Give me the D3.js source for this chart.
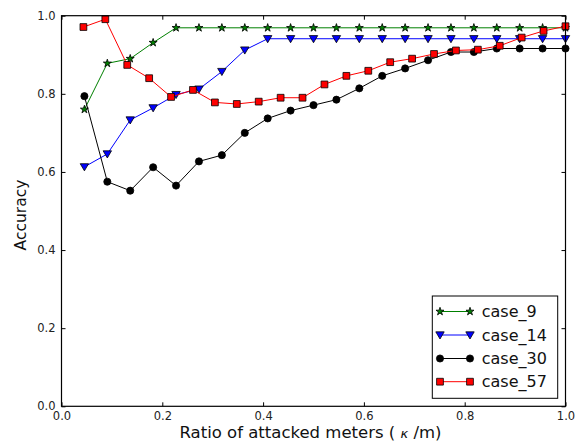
<!DOCTYPE html>
<html>
<head>
<meta charset="utf-8">
<script src="https://cdn.jsdelivr.net/npm/d3@7/dist/d3.min.js"></script>
<style>
  html, body { margin: 0; padding: 0; background: #fff; }
  svg { display: block; font-family: "DejaVu Sans", sans-serif; }
</style>
</head>
<body>
<svg id="chart" width="587" height="446"></svg>
<script>
// Accuracy against the ratio of attacked meters for four IEEE test cases
const case9 = [0.760, 0.878, 0.890, 0.931, 0.969, 0.969, 0.969, 0.969, 0.969, 0.969, 0.969,
               0.969, 0.969, 0.969, 0.969, 0.969, 0.969, 0.969, 0.969, 0.969, 0.969, 0.969];
const case14 = [0.613, 0.646, 0.733, 0.764, 0.798, 0.812, 0.857, 0.912, 0.941, 0.941, 0.941,
                0.941, 0.941, 0.941, 0.941, 0.941, 0.941, 0.941, 0.941, 0.941, 0.941, 0.941];
const case30 = [0.794, 0.575, 0.552, 0.612, 0.565, 0.627, 0.643, 0.700, 0.737, 0.757, 0.771,
                0.785, 0.814, 0.846, 0.865, 0.886, 0.907, 0.907, 0.916, 0.916, 0.916, 0.916];
const case57 = [0.971, 0.991, 0.874, 0.840, 0.792, 0.810, 0.778, 0.774, 0.780, 0.790, 0.790,
                0.824, 0.846, 0.859, 0.881, 0.890, 0.902, 0.911, 0.913, 0.923, 0.944, 0.961, 0.973];
// x positions: k/m over the number of steps each case was run with
const steps22 = d3.range(1, 23).map(i => i / 22);
const steps23 = d3.range(1, 24).map(i => i / 23);

const xTicks = [0.0, 0.2, 0.4, 0.6, 0.8, 1.0];
const yTicks = [0.0, 0.2, 0.4, 0.6, 0.8, 1.0];
const seriesNames = ["case_9", "case_14", "case_30", "case_57"];

const series = [
  { name: seriesNames[0], xs: steps22, ys: case9,  color: "#008000", marker: "star" },
  { name: seriesNames[1], xs: steps22, ys: case14, color: "#0000ff", marker: "tri" },
  { name: seriesNames[2], xs: steps22, ys: case30, color: "#000000", marker: "circle" },
  { name: seriesNames[3], xs: steps23, ys: case57, color: "#ff0000", marker: "square" }
];

const svg = d3.select("#chart");
const padL = 61.5, padR = 565.5, padT = 15.7, padB = 406.3;
const x = d3.scaleLinear().domain([0, 1]).range([padL, padR]);
const y = d3.scaleLinear().domain([0, 1]).range([padB, padT]);

// Marker shapes
function markerPath(type) {
  if (type === "star") return d3.symbol(d3.symbolStar, 20)();
  if (type === "tri") {
    const s = 4.2;
    return `M${-s},${-s * 0.75}L${s},${-s * 0.75}L0,${s * 0.95}Z`;
  }
  if (type === "circle") return d3.symbol(d3.symbolCircle, 40)();
  if (type === "square") return d3.symbol(d3.symbolSquare, 46)();
}

// Axes: ticks point inward on all four sides
const fmt = d3.format(".1f");
const tickLen = 4;

const xb = svg.append("g").attr("transform", `translate(0,${padB})`)
  .call(d3.axisBottom(x).tickValues(xTicks).tickFormat(fmt).tickSizeInner(-tickLen).tickSizeOuter(0).tickPadding(6));
const xt = svg.append("g").attr("transform", `translate(0,${padT})`)
  .call(d3.axisTop(x).tickValues(xTicks).tickFormat("").tickSizeInner(-tickLen).tickSizeOuter(0));
const yl = svg.append("g").attr("transform", `translate(${padL},0)`)
  .call(d3.axisLeft(y).tickValues(yTicks).tickFormat(fmt).tickSizeInner(-tickLen).tickSizeOuter(0).tickPadding(6));
const yr = svg.append("g").attr("transform", `translate(${padR},0)`)
  .call(d3.axisRight(y).tickValues(yTicks).tickFormat("").tickSizeInner(-tickLen).tickSizeOuter(0));

[xb, xt, yl, yr].forEach(g => {
  g.select(".domain").remove();
  g.selectAll(".tick line").attr("stroke", "#000").attr("stroke-width", 1);
  g.selectAll(".tick text").attr("font-family", "DejaVu Sans").attr("font-size", 11.5).attr("fill", "#222");
});

// Series lines and markers
const line = d3.line().x(d => x(d[0])).y(d => y(d[1]));
series.forEach(s => {
  const pts = s.ys.map((v, i) => [s.xs[i], v]);
  svg.append("path").datum(pts)
    .attr("d", line).attr("fill", "none")
    .attr("stroke", s.color).attr("stroke-width", 1);
  svg.append("g").selectAll("path").data(pts).join("path")
    .attr("d", markerPath(s.marker))
    .attr("transform", d => `translate(${x(d[0])},${y(d[1])})`)
    .attr("fill", s.color).attr("stroke", "#000").attr("stroke-width", 0.8);
});

// Frame
svg.append("rect").attr("x", padL).attr("y", padT)
  .attr("width", padR - padL).attr("height", padB - padT)
  .attr("fill", "none").attr("stroke", "#000").attr("stroke-width", 1.2);

// Axis titles
const xTitle = svg.append("text").attr("x", (padL + padR) / 2 - 3).attr("y", 438)
  .attr("text-anchor", "middle").attr("font-size", 16.5).attr("fill", "#111");
xTitle.append("tspan").text("Ratio of attacked meters ( ");
xTitle.append("tspan").attr("font-style", "italic").attr("font-size", 13).text("κ");
xTitle.append("tspan").text(" /m)");

svg.append("text")
  .attr("transform", `translate(26,${(padT + padB) / 2 + 4}) rotate(-90)`)
  .attr("text-anchor", "middle").attr("font-size", 15.5).attr("fill", "#111")
  .text("Accuracy");

// Legend
const lg = svg.append("g");
lg.append("rect").attr("x", 432.3).attr("y", 296).attr("width", 125.4).attr("height", 102.3)
  .attr("fill", "#fff").attr("stroke", "#000").attr("stroke-width", 1);
const rowY = [311.5, 335, 358.5, 381.7];
series.forEach((s, i) => {
  const yy = rowY[i];
  lg.append("line").attr("x1", 440).attr("x2", 470).attr("y1", yy).attr("y2", yy)
    .attr("stroke", s.color).attr("stroke-width", 1);
  [440, 470].forEach(xx => {
    lg.append("path").attr("d", markerPath(s.marker))
      .attr("transform", `translate(${xx},${yy})`)
      .attr("fill", s.color).attr("stroke", "#000").attr("stroke-width", 0.8);
  });
  lg.append("text").attr("x", 481.7).attr("y", yy).attr("dy", "0.35em")
    .attr("font-size", 16).attr("fill", "#111").text(s.name);
});
</script>
</body>
</html>
